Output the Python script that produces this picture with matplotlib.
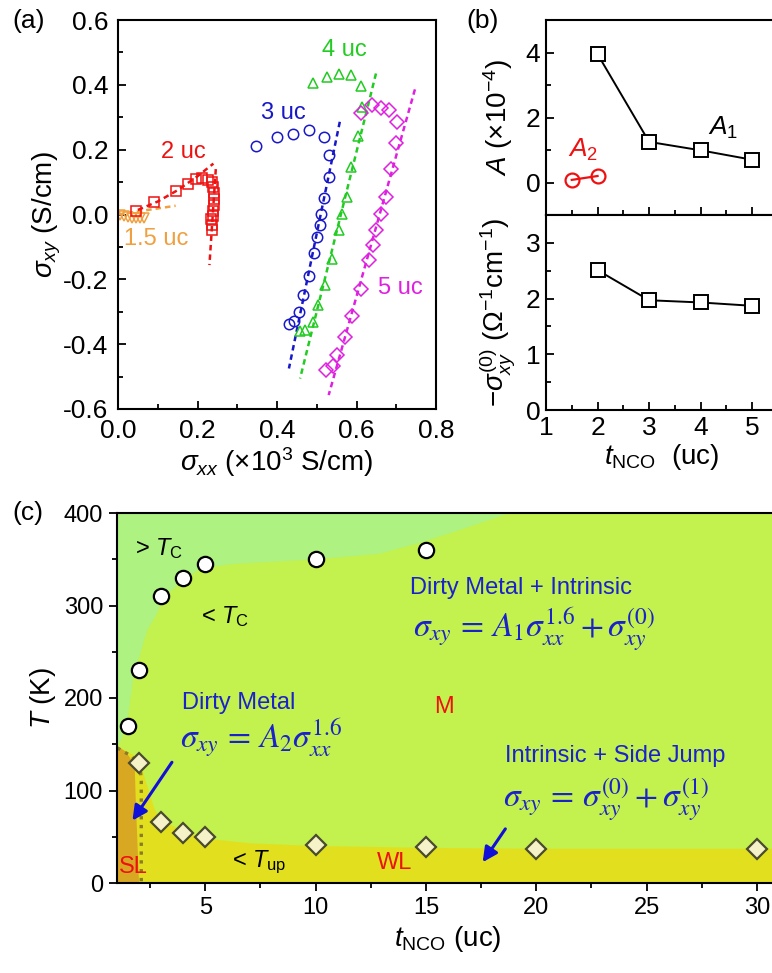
import numpy as np
import matplotlib
matplotlib.use('Agg')
import matplotlib.pyplot as plt
from matplotlib.patches import Polygon
from matplotlib.ticker import MultipleLocator

plt.rcParams['font.family'] = ['Liberation Sans', 'DejaVu Sans']
plt.rcParams['mathtext.fontset'] = 'custom'
plt.rcParams['mathtext.rm'] = 'Liberation Sans'
plt.rcParams['mathtext.it'] = 'Liberation Sans:italic'
plt.rcParams['mathtext.bf'] = 'Liberation Sans:bold'
plt.rcParams['axes.unicode_minus'] = False

# ---------------- panel (a) data: sigma_xy vs sigma_xx ----------------
uc15_xx = [0.005, 0.015, 0.025, 0.035, 0.045, 0.055, 0.065]
uc15_xy = [-0.003, -0.005, -0.008, -0.010, -0.012, -0.012, -0.010]
uc15_fit_xx = [0.0, 0.145]
uc15_fit_xy = [0.0, 0.027]

uc2_xx = [0.046, 0.090, 0.145, 0.176, 0.196, 0.211, 0.226, 0.236, 0.240, 0.241,
          0.242, 0.241, 0.240, 0.238, 0.235, 0.237, 0.237]
uc2_xy = [0.011, 0.039, 0.072, 0.095, 0.108, 0.112, 0.106, 0.099, 0.084, 0.065,
          0.048, 0.029, 0.011, -0.005, -0.015, -0.033, -0.048]
uc2_fit_xx = [0.05, 0.10, 0.15, 0.20, 0.24]
uc2_fit_xy = [0.014, 0.040, 0.075, 0.118, 0.157]
uc2_fit2_xx = [0.246, 0.230]
uc2_fit2_xy = [0.140, -0.156]

uc3_xx = [0.346, 0.400, 0.440, 0.480, 0.519, 0.530, 0.530, 0.517, 0.511, 0.507,
          0.500, 0.492, 0.480, 0.466, 0.455, 0.443, 0.431]
uc3_xy = [0.212, 0.238, 0.248, 0.260, 0.238, 0.183, 0.116, 0.050, 0.001, -0.033,
          -0.070, -0.118, -0.190, -0.249, -0.300, -0.330, -0.338]
uc3_fit_xx = [0.558, 0.430]
uc3_fit_xy = [0.286, -0.475]

uc4_xx = [0.490, 0.527, 0.556, 0.586, 0.611, 0.614, 0.605, 0.586, 0.577, 0.563,
          0.557, 0.538, 0.520, 0.504, 0.490, 0.471, 0.459]
uc4_xy = [0.407, 0.424, 0.433, 0.431, 0.397, 0.332, 0.242, 0.145, 0.055, 0.001,
          -0.048, -0.138, -0.216, -0.280, -0.331, -0.356, -0.359]
uc4_fit_xx = [0.649, 0.458]
uc4_fit_xy = [0.435, -0.506]

uc5_xx = [0.611, 0.640, 0.661, 0.682, 0.701, 0.699, 0.686, 0.675, 0.661, 0.650,
          0.642, 0.632, 0.611, 0.588, 0.570, 0.552, 0.540, 0.523]
uc5_xy = [0.314, 0.338, 0.327, 0.322, 0.286, 0.221, 0.139, 0.053, 0.001, -0.048,
          -0.094, -0.141, -0.231, -0.314, -0.377, -0.434, -0.468, -0.480]
uc5_fit_xx = [0.747, 0.530]
uc5_fit_xy = [0.386, -0.557]

# ---------------- panel (b) data ----------------
t_A1 = [2, 3, 4, 5]
A1 = [3.95, 1.25, 0.99, 0.70]
t_A2 = [1.5, 2]
A2 = [0.08, 0.20]
t_s0 = [2, 3, 4, 5]
sigma0 = [2.51, 1.97, 1.93, 1.87]

# ---------------- panel (c) data: phase diagram ----------------
t_Tc = [1.5, 2, 3, 4, 5, 10, 15]
Tc = [170, 230, 310, 330, 345, 350, 360]
t_Tup = [2, 3, 4, 5, 10, 15, 20, 30]
Tup = [130, 66, 54, 50, 41, 39, 37, 37]

# region outlines
above_tc_t = [1, 1, 1.2, 1.45, 1.75, 2.36, 2.81, 3.1, 3.86, 4.77, 6.28, 10.06, 12.9,
              14.9, 16.7, 18.8]
above_tc_T = [400, 148, 155, 172, 223, 273, 291, 309, 324, 340, 345, 350, 356,
              369, 383, 400]
below_up_t = [1, 1, 2.0, 2.3, 2.7, 3.0, 4, 5, 7, 10, 15, 20, 31, 31]
below_up_T = [0, 148, 135, 110, 80, 68, 56, 48, 43, 40, 38, 37, 37, 0]
sl_t = [1, 1, 1.4, 1.8, 1.85, 1.95, 2.0]
sl_T = [0, 148, 142, 128, 90, 30, 0]
sl_line_t = [1.02, 1.3, 1.68, 2.05, 2.1, 2.1]
sl_line_T = [146, 142, 137, 126, 110, 0]

W, H = 772, 973
fig = plt.figure(figsize=(W / 100, H / 100), dpi=100)


def px_rect(l, t, r, b):
    return [l / W, 1 - b / H, (r - l) / W, (b - t) / H]


def style_ax(ax, direction, size, pad=4):
    ax.tick_params(which='both', direction=direction, width=1.3, labelsize=size, pad=pad)
    ax.tick_params(which='major', length=6)
    ax.tick_params(which='minor', length=3.5)
    for s in ax.spines.values():
        s.set_linewidth(1.5)


RED = '#ee1111'
ORANGE = '#f0a040'
BLUE = '#1818c8'
GREEN = '#22cc22'
MAGENTA = '#e020e0'

# ---------- (a) ----------
axa = fig.add_axes(px_rect(118, 20, 436, 409))
mk = dict(mfc='none', ms=7.5, mew=1.1, ls='none')
fit = dict(ls=(0, (2.2, 1.6)), lw=1.8)
axa.plot(uc15_fit_xx, uc15_fit_xy, color=ORANGE, **fit)
axa.plot(uc2_fit_xx, uc2_fit_xy, color=RED, **fit)
axa.plot(uc2_fit2_xx, uc2_fit2_xy, color=RED, **fit)
axa.plot(uc3_fit_xx, uc3_fit_xy, color=BLUE, **fit)
axa.plot(uc4_fit_xx, uc4_fit_xy, color=GREEN, **fit)
axa.plot(uc5_fit_xx, uc5_fit_xy, color=MAGENTA, **fit)
axa.plot(uc15_xx, uc15_xy, marker='v', color=ORANGE, **mk)
axa.plot(uc2_xx, uc2_xy, marker='s', color=RED, **mk)
axa.plot(uc3_xx, uc3_xy, marker='o', color=BLUE, **mk)
axa.plot(uc4_xx, uc4_xy, marker='^', color=GREEN, **mk)
axa.plot(uc5_xx, uc5_xy, marker='D', color=MAGENTA, **mk)
axa.set_xlim(0, 0.8)
axa.set_ylim(-0.6, 0.6)
axa.xaxis.set_major_locator(MultipleLocator(0.2))
axa.xaxis.set_minor_locator(MultipleLocator(0.1))
axa.yaxis.set_major_locator(MultipleLocator(0.2))
axa.yaxis.set_minor_locator(MultipleLocator(0.1))
axa.xaxis.set_major_formatter(matplotlib.ticker.FormatStrFormatter('%.1f'))
axa.yaxis.set_major_formatter(matplotlib.ticker.FormatStrFormatter('%.1f'))
style_ax(axa, 'in', 19, pad=7)
axa.set_xlabel(r'$\sigma_{xx}$ ($\times$10$^3$ S/cm)', fontsize=20, labelpad=2)
axa.set_ylabel(r'$\sigma_{xy}$ (S/cm)', fontsize=20, labelpad=0)
tk = dict(fontsize=17, ha='center', va='center')
axa.text(0.164, 0.193, '2 uc', color=RED, **tk)
axa.text(0.097, -0.077, '1.5 uc', color=ORANGE, **tk)
axa.text(0.415, 0.312, '3 uc', color=BLUE, **tk)
axa.text(0.569, 0.507, '4 uc', color=GREEN, **tk)
axa.text(0.711, -0.228, '5 uc', color=MAGENTA, **tk)

# ---------- (b) ----------
axb1 = fig.add_axes(px_rect(546, 20, 778, 215))
axb2 = fig.add_axes(px_rect(546, 215, 778, 410))
bk = dict(marker='s', ms=10, mfc='white', mec='black', mew=1.4, color='black', lw=1.4)
axb1.plot(t_A1, A1, **bk)
axb1.plot(t_A2, A2, marker='o', ms=10, mfc='none', mec=RED, mew=1.6, color=RED, lw=1.6)
axb2.plot(t_s0, sigma0, **bk)
for ax in (axb1, axb2):
    ax.set_xlim(1, 5.5)
    ax.xaxis.set_major_locator(MultipleLocator(1))
    ax.xaxis.set_minor_locator(MultipleLocator(0.5))
    style_ax(ax, 'in', 19)
axb1.set_ylim(-1, 5)
axb1.yaxis.set_major_locator(MultipleLocator(2))
axb1.yaxis.set_minor_locator(MultipleLocator(1))
axb1.tick_params(labelbottom=False)
axb2.set_ylim(0, 3.5)
axb2.yaxis.set_major_locator(MultipleLocator(1))
axb2.yaxis.set_minor_locator(MultipleLocator(0.5))
axb1.set_ylabel(r'$A$ ($\times$10$^{-4}$)', fontsize=20, labelpad=8)
axb2.set_ylabel(r'$-\sigma_{xy}^{(0)}$ ($\Omega^{-1}$cm$^{-1}$)', fontsize=20, labelpad=6)
axb2.set_xlabel(r'$t_{\mathrm{NCO}}$  (uc)', fontsize=20, labelpad=2)
axb1.text(4.44, 1.69, r'$A_1$', fontsize=19, ha='center', va='center')
axb1.text(1.71, 0.99, r'$A_2$', fontsize=19, ha='center', va='center', color=RED)

# ---------- (c) ----------
axc = fig.add_axes(px_rect(117, 513, 779, 883))
axc.set_facecolor('#c3f14d')
axc.add_patch(Polygon(list(zip(above_tc_t, above_tc_T)), closed=True, fc='#aef282', ec='none'))
axc.add_patch(Polygon(list(zip(below_up_t, below_up_T)), closed=True, fc='#e2e01e', ec='none'))
axc.add_patch(Polygon(list(zip(sl_t, sl_T)), closed=True, fc='#d9a823', ec='none'))
axc.plot(sl_line_t, sl_line_T, ls=':', lw=2.4, color='#8a7a2a')
axc.plot(t_Tc, Tc, ls='none', marker='o', ms=11, mfc='white', mec='black', mew=1.6)
axc.plot(t_Tup, Tup, ls='none', marker='D', ms=10, mfc='#f4f2c6', mec='#4a4a30', mew=1.6)
axc.set_xlim(1, 31)
axc.set_ylim(0, 400)
axc.xaxis.set_major_locator(MultipleLocator(5))
axc.xaxis.set_minor_locator(MultipleLocator(2.5))
axc.yaxis.set_major_locator(MultipleLocator(100))
axc.yaxis.set_minor_locator(MultipleLocator(50))
style_ax(axc, 'out', 17)
axc.set_xlabel(r'$t_{\mathrm{NCO}}$ (uc)', fontsize=20, labelpad=4)
axc.set_ylabel(r'$T$ (K)', fontsize=20, labelpad=4)

CB = '#1a22cc'
txt = dict(fontsize=17, va='center', ha='left')
eq = dict(color=CB, math_fontfamily='stix', fontsize=24, va='center', ha='left')
axc.text(1.83, 362, r'> $T_{\mathrm{C}}$', **txt)
axc.text(4.82, 288, r'< $T_{\mathrm{C}}$', **txt)
axc.text(3.94, 195, 'Dirty Metal', color=CB, **txt)
axc.text(3.87, 156, r'$\sigma_{xy}\,=\,A_2\sigma_{xx}^{1.6}$', **eq)
axc.text(15.8, 190, 'M', color=RED, fontsize=17, ha='center', va='center')
axc.text(14.3, 319, 'Dirty Metal + Intrinsic', color=CB, **txt)
axc.text(14.4, 274, r'$\sigma_{xy}\,=\,A_1\sigma_{xx}^{1.6}+\sigma_{xy}^{(0)}$', **eq)
axc.text(18.6, 137, 'Intrinsic + Side Jump', color=CB, **txt)
axc.text(18.5, 90, r'$\sigma_{xy}\,=\,\sigma_{xy}^{(0)}+\sigma_{xy}^{(1)}$', **eq)
axc.text(1.1, 17, 'SL', color=RED, **txt)
axc.text(6.2, 22, r'< $T_{\mathrm{up}}$', **txt)
axc.text(12.78, 22, 'WL', color=RED, **txt)
arrow = dict(arrowstyle='-|>', color='#1010d8', lw=2.2, mutation_scale=22)
axc.annotate('', xy=(1.63, 65), xytext=(3.56, 133), arrowprops=arrow)
axc.annotate('', xy=(17.5, 20), xytext=(18.67, 61), arrowprops=arrow)

# panel letters
fig.text(12 / W, 1 - 21 / H, '(a)', fontsize=19, va='center', ha='left')
fig.text(466 / W, 1 - 21 / H, '(b)', fontsize=19, va='center', ha='left')
fig.text(12 / W, 1 - 513 / H, '(c)', fontsize=19, va='center', ha='left')

fig.savefig('out.png', dpi=100)
